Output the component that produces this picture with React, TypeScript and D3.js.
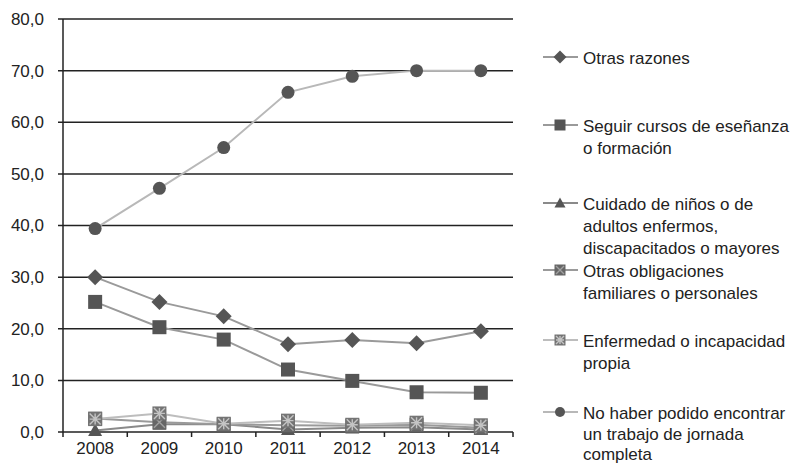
import { useEffect, useRef } from "react";
import * as d3 from "d3";

const years = ["2008", "2009", "2010", "2011", "2012", "2013", "2014"];
const yTicks = [0, 10, 20, 30, 40, 50, 60, 70, 80];

const otrasRazones = [30.0, 25.2, 22.4, 17.0, 17.8, 17.2, 19.5];
const seguirCursos = [25.2, 20.3, 17.9, 12.1, 9.9, 7.7, 7.6];
const cuidado = [0.3, 1.5, 1.5, 0.5, 0.8, 0.9, 0.5];
const otrasObligaciones = [2.6, 1.9, 1.5, 1.3, 1.2, 1.4, 0.8];
const enfermedad = [2.5, 3.6, 1.6, 2.2, 1.4, 1.8, 1.3];
const noHaber = [39.4, 47.2, 55.1, 65.8, 68.9, 70.0, 70.0];

const seriesNames = [
  ["Otras razones"],
  ["Seguir cursos de eseñanza", "o formación"],
  ["Cuidado de niños o de", "adultos enfermos,", "discapacitados o mayores"],
  ["Otras obligaciones", "familiares o personales"],
  ["Enfermedad o incapacidad", "propia"],
  ["No haber podido encontrar", "un trabajo de jornada", "completa"],
];

type Marker = "diamond" | "square" | "triangle" | "xsquare" | "star" | "circle";

const series: { values: number[]; marker: Marker; line: string }[] = [
  { values: otrasRazones, marker: "diamond", line: "#9a9a9a" },
  { values: seguirCursos, marker: "square", line: "#9a9a9a" },
  { values: cuidado, marker: "triangle", line: "#8a8a8a" },
  { values: otrasObligaciones, marker: "xsquare", line: "#9a9a9a" },
  { values: enfermedad, marker: "star", line: "#bdbdbd" },
  { values: noHaber, marker: "circle", line: "#b8b8b8" },
];

const legendY = [57, 125, 203, 270, 340, 412];

function drawMarker(g: any, kind: Marker, x: number, y: number, s: number) {
  const h = s / 2;
  if (kind === "diamond") {
    g.append("path")
      .attr("d", `M${x},${y - h - 1}L${x + h + 1},${y}L${x},${y + h + 1}L${x - h - 1},${y}Z`)
      .attr("fill", "#555");
  } else if (kind === "square") {
    g.append("rect").attr("x", x - h).attr("y", y - h).attr("width", s).attr("height", s).attr("fill", "#555");
  } else if (kind === "triangle") {
    g.append("path")
      .attr("d", `M${x},${y - h}L${x + h},${y + h * 0.8}L${x - h},${y + h * 0.8}Z`)
      .attr("fill", "#555");
  } else if (kind === "circle") {
    g.append("circle").attr("cx", x).attr("cy", y).attr("r", h - 0.5).attr("fill", "#555");
  } else {
    const fill = kind === "xsquare" ? "#666" : "#747474";
    const stroke = kind === "xsquare" ? "#a0a0a0" : "#c4c4c4";
    g.append("rect").attr("x", x - h).attr("y", y - h).attr("width", s).attr("height", s).attr("fill", fill);
    const d = h - 1.5;
    let p = `M${x - d},${y - d}L${x + d},${y + d}M${x + d},${y - d}L${x - d},${y + d}`;
    if (kind === "star") p += `M${x},${y - d}L${x},${y + d}M${x - d},${y}L${x + d},${y}`;
    g.append("path").attr("d", p).attr("stroke", stroke).attr("stroke-width", 1.4).attr("fill", "none");
  }
}

export default function App() {
  const svgRef = useRef<SVGSVGElement | null>(null);

  useEffect(() => {
    const svg: any = d3.select(svgRef.current);
    svg.selectAll("*").remove();
    const font = "'Liberation Sans', Arial, sans-serif";

    const left = 63;
    const right = 513;
    const x = d3.scaleBand().domain(years).range([left, right]);
    const y = d3.scaleLinear().domain([0, 80]).range([432, 19]);

    // gridlines + y ticks
    const grid = svg.append("g");
    yTicks.forEach((t) => {
      grid
        .append("line")
        .attr("x1", left - 5)
        .attr("x2", right)
        .attr("y1", y(t))
        .attr("y2", y(t))
        .attr("stroke", "#222")
        .attr("stroke-width", 1.5);
      grid
        .append("text")
        .attr("x", 44)
        .attr("y", y(t))
        .attr("dy", "0.35em")
        .attr("text-anchor", "end")
        .attr("font-family", font)
        .attr("font-size", 17)
        .attr("fill", "#222")
        .text(t.toFixed(1).replace(".", ","));
    });
    grid
      .append("line")
      .attr("x1", left)
      .attr("x2", left)
      .attr("y1", y(80))
      .attr("y2", y(0))
      .attr("stroke", "#222")
      .attr("stroke-width", 1.5);

    // x ticks
    const edges = years.map((yr) => x(yr) as number).concat([right]);
    edges.forEach((e) => {
      grid
        .append("line")
        .attr("x1", e)
        .attr("x2", e)
        .attr("y1", y(0))
        .attr("y2", y(0) + 5)
        .attr("stroke", "#222")
        .attr("stroke-width", 1.5);
    });
    years.forEach((yr) => {
      grid
        .append("text")
        .attr("x", (x(yr) as number) + x.bandwidth() / 2)
        .attr("y", 454)
        .attr("text-anchor", "middle")
        .attr("font-family", font)
        .attr("font-size", 17)
        .attr("fill", "#222")
        .text(yr);
    });

    const cx = (i: number) => (x(years[i]) as number) + x.bandwidth() / 2;
    const line = d3
      .line<number>()
      .x((_, i) => cx(i))
      .y((d) => y(d));

    const plot = svg.append("g");
    series.forEach((s) => {
      plot
        .append("path")
        .attr("d", line(s.values))
        .attr("fill", "none")
        .attr("stroke", s.line)
        .attr("stroke-width", 2);
    });
    series.forEach((s) => {
      s.values.forEach((v, i) => drawMarker(plot, s.marker, cx(i), y(v), 14));
    });

    // legend
    const legend = svg.append("g");
    series.forEach((s, k) => {
      const ly = legendY[k];
      const gap = k === series.length - 1 ? 20.5 : 22;
      legend
        .append("line")
        .attr("x1", 543)
        .attr("x2", 578)
        .attr("y1", ly)
        .attr("y2", ly)
        .attr("stroke", s.line)
        .attr("stroke-width", 2);
      drawMarker(legend, s.marker, 560, ly, 11);
      seriesNames[k].forEach((txt, j) => {
        legend
          .append("text")
          .attr("x", 583)
          .attr("y", ly + j * gap + 7)
          .attr("font-family", font)
          .attr("font-size", 17)
          .attr("fill", "#222")
          .text(txt);
      });
    });
  }, []);

  return (
    <svg
      ref={svgRef}
      width={794}
      height={464}
      style={{ position: "absolute", left: 0, top: 0, background: "#fff" }}
    />
  );
}
